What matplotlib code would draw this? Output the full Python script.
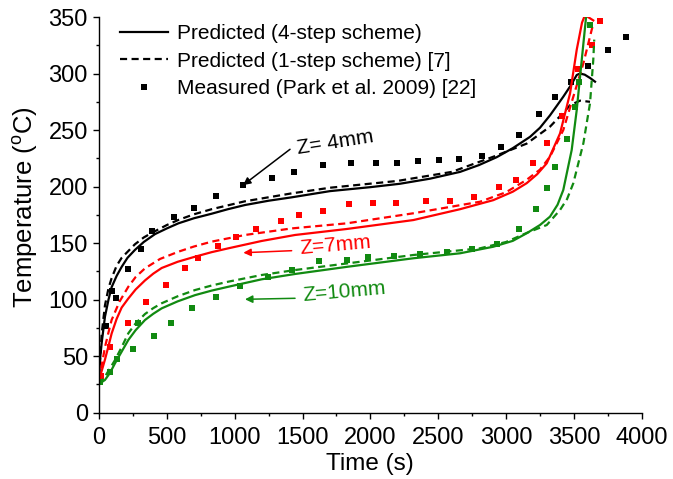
import matplotlib
matplotlib.use("Agg")
import matplotlib.pyplot as plt
from matplotlib.ticker import MultipleLocator

plt.rcParams["font.family"] = ["Liberation Sans", "DejaVu Sans"]
plt.rcParams["mathtext.fontset"] = "custom"
plt.rcParams["mathtext.rm"] = "Liberation Sans"

GREEN = "#118a11"
RED = "#ff0000"

# measured points (Park et al. 2009)
meas_t_4mm = [52, 93, 125, 216, 307, 393, 555, 702, 860, 1064, 1273, 1437, 1649, 1857, 2042, 2199,
              2349, 2506, 2653, 2821, 2961, 3098, 3241, 3361, 3479, 3602, 3749, 3882]
meas_T_4mm = [77, 107.6, 101.7, 126.8, 144.5, 161, 172.8, 181.3, 191.7, 201.4, 207.3, 213, 219, 220.6,
              220.6, 221, 222.6, 223.5, 224, 227, 234.7, 246, 264, 279, 292.8, 307, 320.8, 332.6]

meas_t_7mm = [15, 81, 211, 344, 491, 634, 732, 875, 1007, 1157, 1339, 1474, 1653, 1843, 2017, 2189,
              2408, 2587, 2766, 2951, 3074, 3197, 3304, 3410, 3533, 3631, 3693]
meas_T_7mm = [32.5, 57.8, 79, 97.6, 113, 127.7, 136.5, 147.4, 155, 162.5, 169.8, 174.8, 178.4, 184.3,
              185.2, 185.7, 187.5, 187.5, 191, 200, 205.8, 220.6, 238.3, 262, 303.7, 325, 346.7]

meas_t_10mm = [7, 81, 130, 248, 290, 408, 531, 688, 860, 1039, 1248, 1420, 1624, 1825, 1985, 2177,
               2366, 2563, 2747, 2931, 3098, 3221, 3304, 3361, 3452, 3509, 3541, 3619]
meas_T_10mm = [27.4, 36.3, 47.2, 56.6, 79, 67.8, 79, 92.9, 102, 112, 120, 126, 134.4, 135, 137.4,
               138.6, 140, 142.4, 144.5, 149, 162.5, 180, 199, 217.6, 242, 270.7, 292.8, 343]

# predicted, 4-step scheme
p4_t_4mm = [0, 10, 20, 44, 70, 93, 130, 167, 210, 265, 330, 413, 500, 585, 700, 830, 950, 1076,
            1250, 1420, 1703, 2000, 2218, 2440, 2661, 2800, 2931, 3050, 3177, 3250, 3324, 3422,
            3480, 3521, 3545, 3580, 3620, 3656]
p4_T_4mm = [32, 50, 62, 85, 100, 111, 121, 129, 137, 144, 151, 158, 163, 167.5, 172, 176, 180, 183.7,
            187.5, 190.5, 196, 199.5, 202.5, 207, 213, 219, 226, 234, 244, 252, 263, 279.5,
            290, 298.7, 300, 299, 296, 292.8]

p4_t_7mm = [0, 20, 44, 70, 93, 130, 167, 216, 270, 339, 400, 462, 580, 708, 830, 953, 1199, 1445,
            1826, 2317, 2661, 2906, 3050, 3152, 3230, 3300, 3398, 3472, 3521, 3560, 3582, 3643]
p4_T_7mm = [29, 37, 47, 59, 70, 83, 93, 101, 109, 117, 123, 128, 133.5, 138, 142, 145.4, 151.9, 157.2,
            162.5, 170.4, 180, 188, 195.5, 203, 211, 220.6, 247, 282.5, 321, 345, 351.7, 347]

p4_t_10mm = [0, 20, 44, 80, 118, 167, 216, 270, 339, 400, 462, 580, 708, 830, 953, 1199, 1445, 1826,
             2317, 2661, 2906, 3050, 3152, 3250, 3324, 3380, 3422, 3484, 3521, 3558, 3590]
p4_T_10mm = [25, 27, 29, 35, 43.7, 54, 64.3, 73, 82, 87.5, 92.3, 98.5, 104, 108, 111.4, 118, 122.7, 129,
             136.6, 141, 146.8, 152, 158.7, 166, 173.4, 184, 197, 232.4, 267.7, 312, 350]

# predicted, 1-step scheme [7]
p1_t_4mm = [0, 20, 44, 70, 93, 130, 167, 216, 265, 330, 388, 500, 585, 700, 830, 1076, 1420, 1703,
            2200, 2600, 2906, 3152, 3324, 3420, 3472, 3545, 3619]
p1_T_4mm = [32, 70, 95, 110, 119, 130, 137, 143, 149, 155, 159, 166, 170.5, 175.5, 180, 187, 194, 199,
            205, 213, 226.4, 238, 253, 265, 272, 276, 275]

p1_t_7mm = [0, 20, 44, 70, 93, 150, 216, 270, 339, 450, 585, 700, 830, 1076, 1420, 1826, 2317, 2808,
            3000, 3152, 3250, 3324, 3422, 3496, 3570, 3631, 3643]
p1_T_7mm = [29, 42, 58, 71, 82, 98, 111.4, 120, 127.7, 136, 142.4, 147, 151.3, 157.2, 163, 167.5,
            176.4, 186.6, 195, 206, 215, 226.4, 250, 279.5, 309, 338.5, 344]

p1_t_10mm = [0, 20, 44, 80, 118, 167, 216, 270, 339, 400, 462, 580, 708, 830, 953, 1199, 1445, 1826,
             2317, 2808, 3000, 3152, 3300, 3398, 3450, 3496, 3570, 3619, 3643, 3650]
p1_T_10mm = [25, 28, 32, 39, 46.6, 58, 70.2, 79, 87.3, 92.5, 96.8, 103, 108.5, 112.5, 115.9, 121.8,
             126.2, 132, 139.5, 145.4, 151, 159, 166, 179.3, 189, 203, 238.3, 273.7, 312, 330]

fig = plt.figure(figsize=(6.73, 4.79), dpi=100)
ax = fig.add_axes([0.1471, 0.1384, 0.8064, 0.8261])

lw = 1.6
dash = (0, (3.2, 2.0))
ms = 4.0

ax.plot(p4_t_4mm, p4_T_4mm, color="black", lw=lw, label="Predicted (4-step scheme)")
ax.plot(p1_t_4mm, p1_T_4mm, color="black", lw=lw, linestyle=dash, label="Predicted (1-step scheme) [7]")
ax.plot(meas_t_4mm, meas_T_4mm, "s", color="black", ms=ms, mew=0, label="Measured (Park et al. 2009) [22]")

ax.plot(p4_t_7mm, p4_T_7mm, color=RED, lw=lw)
ax.plot(p1_t_7mm, p1_T_7mm, color=RED, lw=lw, linestyle=dash)
ax.plot(meas_t_7mm, meas_T_7mm, "s", color=RED, ms=ms, mew=0)

ax.plot(p4_t_10mm, p4_T_10mm, color=GREEN, lw=lw)
ax.plot(p1_t_10mm, p1_T_10mm, color=GREEN, lw=lw, linestyle=dash)
ax.plot(meas_t_10mm, meas_T_10mm, "s", color=GREEN, ms=ms, mew=0)

arrow = dict(arrowstyle="-|>", mutation_scale=11, lw=1.1, shrinkA=0, shrinkB=0)
ax.annotate("", xy=(1062, 201.3), xytext=(1408, 233), arrowprops=dict(arrow, color="black"))
ax.annotate("", xy=(1064, 141.5), xytext=(1420, 143.3), arrowprops=dict(arrow, color=RED))
ax.annotate("", xy=(1076, 100.3), xytext=(1445, 101.2), arrowprops=dict(arrow, color=GREEN))
ax.text(1740, 238.7, "Z= 4mm", fontsize=15, color="black", rotation=9, ha="center", va="center")
ax.text(1740, 148.3, "Z=7mm", fontsize=15, color=RED, rotation=5, ha="center", va="center")
ax.text(1806, 106.8, "Z=10mm", fontsize=15, color=GREEN, rotation=5, ha="center", va="center")

ax.set_xlim(0, 4000)
ax.set_ylim(0, 350)
ax.xaxis.set_major_locator(MultipleLocator(500))
ax.xaxis.set_minor_locator(MultipleLocator(250))
ax.yaxis.set_major_locator(MultipleLocator(50))
ax.yaxis.set_minor_locator(MultipleLocator(25))
for side in ("top", "right"):
    ax.spines[side].set_visible(False)
for side in ("left", "bottom"):
    ax.spines[side].set_linewidth(1.0)
ax.tick_params(which="major", direction="out", length=4, width=1.0, labelsize=17, pad=4)
ax.tick_params(axis="x", which="major", pad=6)
ax.tick_params(which="minor", direction="out", length=2.3, width=1.0)

ax.set_xlabel("Time (s)", fontsize=17.5, labelpad=3)
ax.set_ylabel(r"Temperature ($^{\mathrm{o}}$C)", fontsize=18.5, labelpad=6)
ax.yaxis.label.set_y(0.52)

ax.legend(loc="upper left", bbox_to_anchor=(120 / 673, 1 - 24 / 479), bbox_transform=fig.transFigure,
          frameon=False, fontsize=15, borderpad=0, borderaxespad=0, handlelength=2.3,
          handletextpad=0.45, labelspacing=0.42)

fig.savefig("out.png", dpi=100)
